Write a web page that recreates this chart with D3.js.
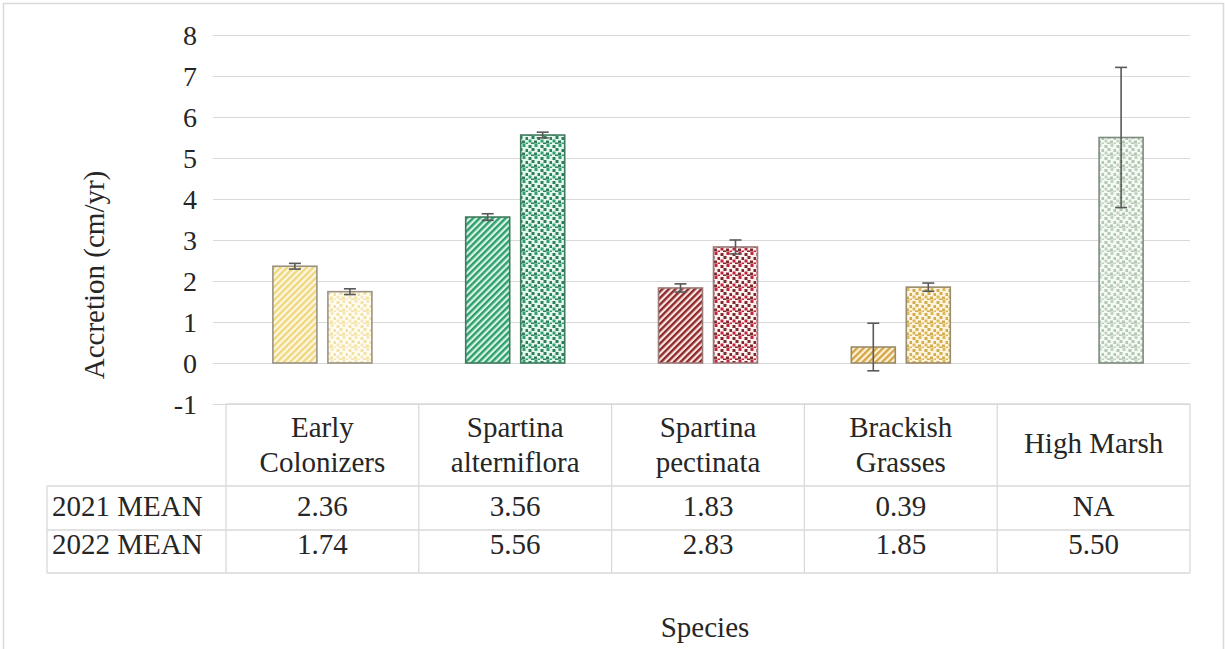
<!DOCTYPE html>
<html>
<head>
<meta charset="utf-8">
<script src="https://cdn.jsdelivr.net/npm/d3@7"></script>
<style>
  html, body { margin: 0; padding: 0; background: #ffffff; }
  svg { display: block; }
</style>
</head>
<body>
<svg id="chart" width="1225" height="649"></svg>
<script>
// ---- data ----
const categories = ["Early Colonizers", "Spartina alterniflora", "Spartina pectinata", "Brackish Grasses", "High Marsh"];
const categoryLines = [["Early", "Colonizers"], ["Spartina", "alterniflora"], ["Spartina", "pectinata"], ["Brackish", "Grasses"], ["High Marsh"]];
const seriesNames = ["2021 MEAN", "2022 MEAN"];
const mean2021 = [2.36, 3.56, 1.83, 0.39, null];
const mean2022 = [1.74, 5.56, 2.83, 1.85, 5.50];
const err2021 = [0.07, 0.08, 0.10, 0.58, null];
const err2022 = [0.07, 0.07, 0.17, 0.10, 1.71];
const label2021 = ["2.36", "3.56", "1.83", "0.39", "NA"];
const label2022 = ["1.74", "5.56", "2.83", "1.85", "5.50"];
const yTicks = [-1, 0, 1, 2, 3, 4, 5, 6, 7, 8];

// ---- styles (per category: stripe fg/bg, dot fg/bg, outline) ----
const stripeFg = ["#f0d77e", "#2e9e6c", "#8e2a2a", "#d4a544", null];
const stripeBg = ["#fdf8e4", "#d7f4e5", "#fbe6e6", "#fdf3dc", null];
const dotFg    = ["#f3e2a4", "#2f7d5c", "#7a2b2b", "#d3ab52", "#b3c7b2"];
const dotFg2   = ["#f6e8b8", "#2fa06d", "#c4213c", "#e0b85a", "#c2d3c0"];
const dotBg    = ["#fffdf3", "#e3f7ec", "#fdf0f0", "#fdf6de", "#f6faf4"];
const outline  = ["#9a9384", "#3f7a5e", "#9b7a7a", "#9a8c6c", "#7f8a7f"];

const FONT = "'Liberation Serif', 'Times New Roman', Tinos, 'DejaVu Serif', serif";
const svg = d3.select("#chart").attr("font-family", FONT).style("font-family", FONT).attr("fill", "#262626");
const W = 1225, H = 649;

// outer frame
svg.append("rect").attr("x", 3.5).attr("y", 3.5).attr("width", W - 5).attr("height", H + 10)
  .attr("fill", "none").attr("stroke", "#d9d9d9").attr("stroke-width", 1.5);

const plotLeft = 226, plotRight = 1190;
const y = d3.scaleLinear().domain([-1, 8]).range([404, 35]);
const x = d3.scaleBand().domain(categories).range([plotLeft, plotRight]).paddingInner(0).paddingOuter(0);
const bw = x.bandwidth();
// inner scale: bars 45 px wide, 10 px gap
const barW = 45, gap = 10, step = barW + gap;
const pIn = gap / step;
const pOut = (bw - (2 * step - gap)) / 2 / step;
const xs = d3.scaleBand().domain(seriesNames).range([0, bw]).paddingInner(pIn).paddingOuter(pOut);

// ---- patterns ----
const defs = svg.append("defs");
categories.forEach((c, i) => {
  if (stripeFg[i]) {
    const p = defs.append("pattern").attr("id", "stripe" + i)
      .attr("patternUnits", "userSpaceOnUse").attr("width", 4.6).attr("height", 10)
      .attr("patternTransform", "rotate(45)");
    p.append("rect").attr("width", 4.6).attr("height", 10).attr("fill", stripeBg[i]);
    p.append("rect").attr("width", 2.4).attr("height", 10).attr("fill", stripeFg[i]);
  }
  const d = defs.append("pattern").attr("id", "dot" + i)
    .attr("patternUnits", "userSpaceOnUse").attr("width", 12).attr("height", 12);
  d.append("rect").attr("width", 12).attr("height", 12).attr("fill", dotBg[i]);
  const pts = [[0.5, 1, 0], [6.5, 0, 1], [3.5, 4, 0], [9.5, 5, 0], [0.5, 7.5, 1], [6, 8.5, 0], [3, 10.5, 0], [9.5, 10.5, 1]];
  pts.forEach(([px, py, k]) => {
    d.append("rect").attr("x", px).attr("y", py).attr("width", 3).attr("height", 3)
      .attr("fill", k ? dotFg2[i] : dotFg[i]);
  });
});

// ---- gridlines ----
svg.append("g").selectAll("line").data(yTicks).join("line")
  .attr("x1", 213).attr("x2", plotRight)
  .attr("y1", d => Math.round(y(d)) + 0.5).attr("y2", d => Math.round(y(d)) + 0.5)
  .attr("stroke", "#d9d9d9").attr("stroke-width", 1.2);

// ---- y axis labels ----
svg.append("g").selectAll("text").data(yTicks).join("text")
  .attr("x", 197).attr("y", d => y(d)).attr("dy", "0.35em")
  .attr("text-anchor", "end").attr("font-size", 28).attr("fill", "#262626").text(d => d);

svg.append("text")
  .attr("transform", "translate(104,275) rotate(-90)")
  .attr("text-anchor", "middle").attr("font-size", 29).attr("fill", "#262626")
  .text("Accretion (cm/yr)");

// ---- bars ----
const barData = [];
categories.forEach((c, i) => {
  if (mean2021[i] != null) barData.push({ c, i, s: seriesNames[0], v: mean2021[i], e: err2021[i], fill: "url(#stripe" + i + ")" });
  if (mean2022[i] != null) barData.push({ c, i, s: seriesNames[1], v: mean2022[i], e: err2022[i], fill: "url(#dot" + i + ")" });
});

const gBars = svg.append("g");
gBars.selectAll("rect").data(barData).join("rect")
  .attr("x", d => x(d.c) + xs(d.s) + 0.5)
  .attr("y", d => y(Math.max(0, d.v)))
  .attr("width", xs.bandwidth() - 1)
  .attr("height", d => Math.abs(y(0) - y(d.v)))
  .attr("fill", d => d.fill)
  .attr("stroke", d => outline[d.i]).attr("stroke-width", 1.6);

// ---- error bars ----
const gErr = svg.append("g").attr("stroke", "#595959").attr("stroke-width", 1.6);
barData.forEach(d => {
  const cx = x(d.c) + xs(d.s) + xs.bandwidth() / 2;
  const yt = y(d.v + d.e), yb = y(d.v - d.e);
  gErr.append("line").attr("x1", cx).attr("x2", cx).attr("y1", yt).attr("y2", yb);
  gErr.append("line").attr("x1", cx - 6).attr("x2", cx + 6).attr("y1", yt).attr("y2", yt);
  gErr.append("line").attr("x1", cx - 6).attr("x2", cx + 6).attr("y1", yb).attr("y2", yb);
});

// ---- data table ----
const tTop = 404, hdrBot = 486, r1Bot = 530, r2Bot = 573, labLeft = 47;
const gT = svg.append("g").attr("stroke", "#d9d9d9").attr("stroke-width", 1.3).attr("fill", "none");
gT.append("line").attr("x1", plotLeft).attr("x2", plotRight).attr("y1", tTop).attr("y2", tTop);
[hdrBot, r1Bot, r2Bot].forEach(yy => gT.append("line").attr("x1", labLeft).attr("x2", plotRight).attr("y1", yy).attr("y2", yy));
gT.append("line").attr("x1", labLeft).attr("x2", labLeft).attr("y1", hdrBot).attr("y2", r2Bot);
categories.forEach(c => gT.append("line").attr("x1", x(c)).attr("x2", x(c)).attr("y1", tTop).attr("y2", r2Bot));
gT.append("line").attr("x1", plotRight).attr("x2", plotRight).attr("y1", tTop).attr("y2", r2Bot);

// header text
const gH = svg.append("g").attr("font-size", 29).attr("text-anchor", "middle").attr("fill", "#262626");
categories.forEach((c, i) => {
  const lines = categoryLines[i];
  const cx = x(c) + bw / 2;
  const base = lines.length === 1 ? [453] : [437, 472];
  lines.forEach((ln, k) => gH.append("text").attr("x", cx).attr("y", base[k]).text(ln));
});

// row labels and values
const gR = svg.append("g").attr("font-size", 29).attr("fill", "#262626");
gR.append("text").attr("x", 52).attr("y", 516).text(seriesNames[0]);
gR.append("text").attr("x", 52).attr("y", 554).text(seriesNames[1]);
categories.forEach((c, i) => {
  const cx = x(c) + bw / 2;
  gR.append("text").attr("x", cx).attr("y", 516).attr("text-anchor", "middle").text(label2021[i]);
  gR.append("text").attr("x", cx).attr("y", 554).attr("text-anchor", "middle").text(label2022[i]);
});

// x axis title
svg.append("text").attr("x", 705).attr("y", 637).attr("text-anchor", "middle").attr("font-size", 29).attr("fill", "#262626").text("Species");
</script>
</body>
</html>
